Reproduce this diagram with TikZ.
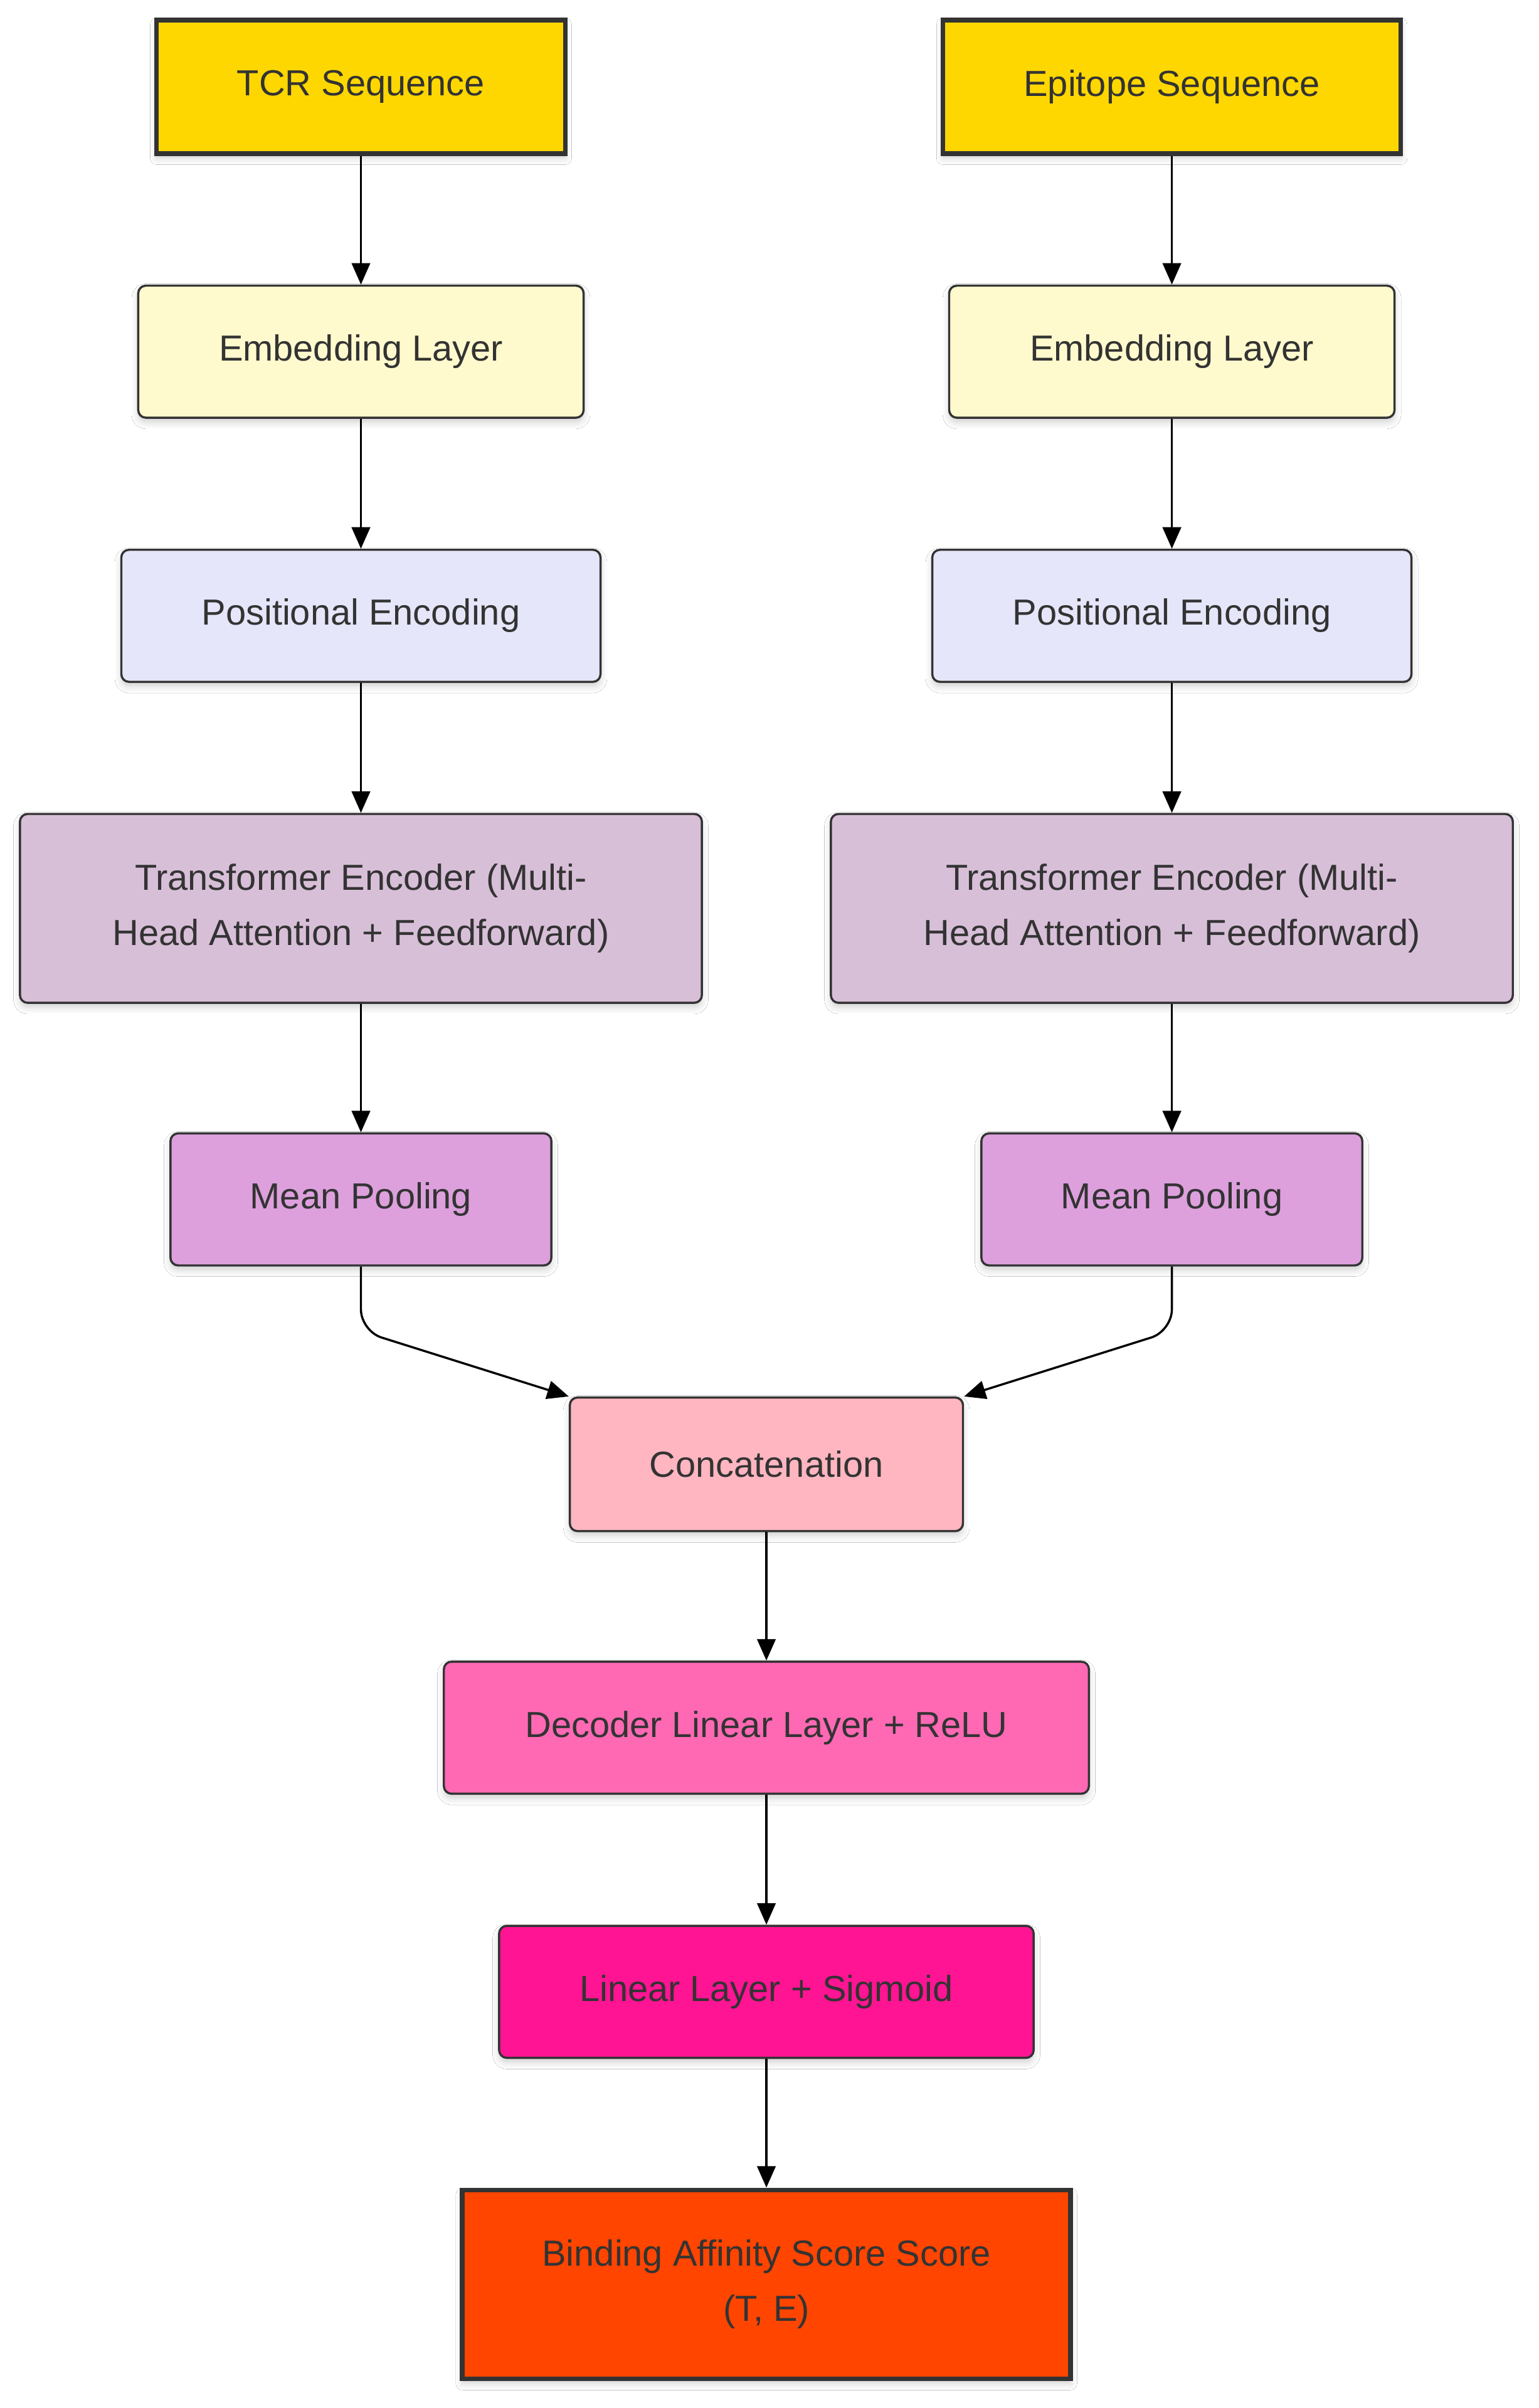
\documentclass[tikz,border=0pt]{standalone}
\usepackage{fontspec}
\setmainfont{Liberation Sans}
\usetikzlibrary{arrows.meta,shadows.blur}

\definecolor{txt}{HTML}{333333}
\definecolor{edge}{HTML}{333333}
\definecolor{cgold}{HTML}{FFD700}
\definecolor{clemon}{HTML}{FFFACD}
\definecolor{clav}{HTML}{E6E6FA}
\definecolor{cthistle}{HTML}{D8BFD8}
\definecolor{cplum}{HTML}{DDA0DD}
\definecolor{cpink}{HTML}{FFB6C1}
\definecolor{chot}{HTML}{FF69B4}
\definecolor{cdeep}{HTML}{FF1493}
\definecolor{corange}{HTML}{FF4500}

\tikzset{
  box/.style={draw=edge, text=txt, align=center, inner sep=0pt,
    font=\fontsize{11.8}{18}\selectfont,
    blur shadow={shadow xshift=0pt, shadow yshift=-1.5pt, shadow blur steps=6, shadow opacity=18}},
  stagebox/.style={box, line width=0.7pt, rounded corners=2.5pt, minimum height=43pt},
  endbox/.style={box, line width=1.5pt},
  flow/.style={draw=black, line width=0.7pt, -{Triangle[length=7pt,width=6pt]}}
}

\begin{document}
\begin{tikzpicture}[x=0.5pt,y=-0.5pt]
  \useasboundingbox[fill=white] (0,0) rectangle (1002,1568);

  % inputs
  \node[endbox, fill=cgold, minimum width=133pt, minimum height=43.5pt] (tcr) at (235,56.5) {TCR Sequence};
  \node[endbox, fill=cgold, minimum width=149pt, minimum height=43.5pt] (epi) at (763,56.5) {Epitope Sequence};

  % TCR branch
  \node[stagebox, fill=clemon, minimum width=145pt] (embL) at (235,229) {Embedding Layer};
  \node[stagebox, fill=clav, minimum width=156pt] (posL) at (235,401) {Positional Encoding};
  \node[stagebox, fill=cthistle, minimum width=222pt, minimum height=61.5pt] (tfL) at (235,591.5)
    {Transformer Encoder (Multi-\\Head Attention + Feedforward)};
  \node[stagebox, fill=cplum, minimum width=124pt] (mpL) at (235,781) {Mean Pooling};

  % epitope branch
  \node[stagebox, fill=clemon, minimum width=145pt] (embR) at (763,229) {Embedding Layer};
  \node[stagebox, fill=clav, minimum width=156pt] (posR) at (763,401) {Positional Encoding};
  \node[stagebox, fill=cthistle, minimum width=222pt, minimum height=61.5pt] (tfR) at (763,591.5)
    {Transformer Encoder (Multi-\\Head Attention + Feedforward)};
  \node[stagebox, fill=cplum, minimum width=124pt] (mpR) at (763,781) {Mean Pooling};

  % joint head
  \node[stagebox, fill=cpink, minimum width=128pt, minimum height=43.5pt] (cat) at (499,953.5) {Concatenation};
  \node[stagebox, fill=chot, minimum width=210pt] (dec) at (499,1125) {Decoder Linear Layer + ReLU};
  \node[stagebox, fill=cdeep, minimum width=174pt] (lin) at (499,1297) {Linear Layer + Sigmoid};
  \node[endbox, fill=corange, minimum width=198pt, minimum height=61.5pt] (out) at (499,1487.5)
    {Binding Affinity Score Score\\(T, E)};

  % connectors
  \draw[flow] (tcr) -- (embL);
  \draw[flow] (embL) -- (posL);
  \draw[flow] (posL) -- (tfL);
  \draw[flow] (tfL) -- (mpL);
  \draw[flow] (epi) -- (embR);
  \draw[flow] (embR) -- (posR);
  \draw[flow] (posR) -- (tfR);
  \draw[flow] (tfR) -- (mpR);
  \draw[flow, rounded corners=7pt] (mpL.south) -- ++(0,42) -- (cat.north west);
  \draw[flow, rounded corners=7pt] (mpR.south) -- ++(0,42) -- (cat.north east);
  \draw[flow] (cat) -- (dec);
  \draw[flow] (dec) -- (lin);
  \draw[flow] (lin) -- (out);
\end{tikzpicture}
\end{document}
